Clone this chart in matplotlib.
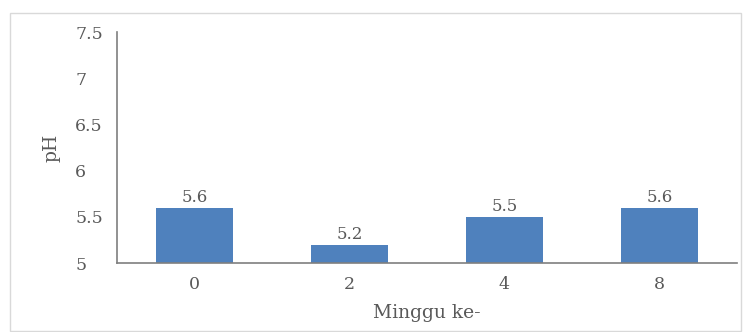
import matplotlib.pyplot as plt
from matplotlib.patches import Rectangle

weeks = ['0', '2', '4', '8']
ph = [5.6, 5.2, 5.5, 5.6]
yticks = [5, 5.5, 6, 6.5, 7, 7.5]
ytick_labels = ['5', '5.5', '6', '6.5', '7', '7.5']

plt.rcParams['font.family'] = ['DejaVu Serif']
txt = '#595959'

fig = plt.figure(figsize=(7.47, 3.32), dpi=100)
# light frame around the chart area
fig.patches.append(Rectangle((10 / 747, 1 / 332), 731 / 747, 318 / 332,
                             transform=fig.transFigure, fill=False,
                             edgecolor='#d9d9d9', linewidth=1))
ax = fig.add_axes([0.1566, 0.2078, 0.83, 0.6958])

x = range(len(weeks))
bars = ax.bar(x, [v - 5 for v in ph], bottom=5, width=0.5, color='#4f81bd')
for b, v in zip(bars, ph):
    ax.text(b.get_x() + b.get_width() / 2, v + 0.02, f'{v:.1f}',
            ha='center', va='bottom', fontsize=12, color=txt)

ax.set_xlim(-0.5, len(weeks) - 0.5)
ax.set_ylim(5, 7.5)
ax.set_xticks(list(x))
ax.set_xticklabels(weeks)
ax.set_yticks(yticks)
ax.set_yticklabels(ytick_labels, ha='left')
ax.tick_params(length=0, labelsize=12.5, colors=txt)
ax.tick_params(axis='x', pad=9)
ax.tick_params(axis='y', pad=30)
for s in ['top', 'right']:
    ax.spines[s].set_visible(False)
for s in ['left', 'bottom']:
    ax.spines[s].set_color('#7f7f7f')
    ax.spines[s].set_linewidth(1.2)
ax.set_xlabel('Minggu ke-', fontsize=13.5, color=txt, labelpad=8)
ax.set_ylabel('pH', fontsize=13.5, color=txt, labelpad=11)

fig.savefig('out.png', dpi=100)
